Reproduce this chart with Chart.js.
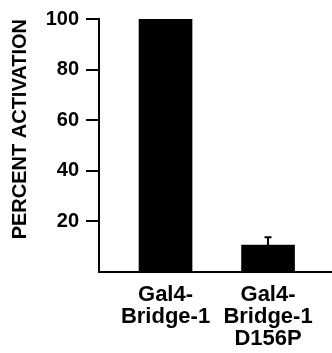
<!DOCTYPE html>
<html lang="en">
<head>
  <meta charset="UTF-8" />
  <title>Percent activation</title>
  <script src="https://cdn.jsdelivr.net/npm/chart.js"></script>
  <style>
    body { margin: 0; background: #fff; }
    .chart-box { width: 332px; height: 353px; }
  </style>
</head>
<body>

  <div class="chart-box">
    <canvas id="activationChart"></canvas>
  </div>

  <script>
    // data
    const categories = [
      ['Gal4-', 'Bridge-1'],
      ['Gal4-', 'Bridge-1', 'D156P']
    ];
    const activation = [100, 10.6];
    const errors = [0, 3.1];
    const yTicks = [20, 40, 60, 80, 100];

    const font = 'Liberation Sans, Arial, Helvetica, sans-serif';

    // simple error bar (upper whisker only, the lower part is hidden by the bar)
    const errorBars = {
      id: 'errorBars',
      afterDatasetsDraw(chart) {
        const ctx = chart.ctx;
        const yScale = chart.scales.y;
        const meta = chart.getDatasetMeta(0);
        ctx.save();
        ctx.strokeStyle = '#000';
        ctx.lineWidth = 2;
        meta.data.forEach((bar, i) => {
          if (!errors[i]) return;
          const top = yScale.getPixelForValue(activation[i] + errors[i]);
          ctx.beginPath();
          ctx.moveTo(bar.x, bar.y);
          ctx.lineTo(bar.x, top);
          ctx.moveTo(bar.x - 3.5, top);
          ctx.lineTo(bar.x + 3.5, top);
          ctx.stroke();
        });
        ctx.restore();
      }
    };

    new Chart(document.getElementById('activationChart'), {
      type: 'bar',
      data: {
        datasets: [{
          label: 'Percent activation',
          data: activation.map((v, i) => ({ x: i + 1, y: v })),
          backgroundColor: '#000',
          barThickness: 53
        }]
      },
      options: {
        responsive: true,
        maintainAspectRatio: false,
        animation: false,
        layout: { padding: { top: 17, right: 0, bottom: 0, left: 0 } },
        plugins: { legend: { display: false }, tooltip: { enabled: false } },
        scales: {
          x: {
            type: 'linear',
            min: 0.351,
            max: 2.624,
            offset: false,
            afterBuildTicks: s => { s.ticks = categories.map((c, i) => ({ value: i + 1 })); },
            afterFit: s => { s.height = 81; },
            grid: { display: false },
            border: { color: '#000', width: 2 },
            ticks: {
              autoSkip: false,
              maxRotation: 0,
              color: '#000',
              padding: 4,
              font: { family: font, size: 22, weight: 'bold', lineHeight: 0.99 },
              callback: v => categories[v - 1]
            }
          },
          y: {
            min: 0,
            max: 100,
            afterBuildTicks: s => { s.ticks = yTicks.map(v => ({ value: v })); },
            afterFit: s => { s.width = 99; },
            grid: { drawOnChartArea: false, tickLength: 13, color: '#000', lineWidth: 2 },
            border: { color: '#000', width: 2 },
            ticks: {
              color: '#000',
              padding: 7,
              font: { family: font, size: 20, weight: 'bold' }
            },
            title: {
              display: true,
              text: 'PERCENT ACTIVATION',
              align: 'end',
              color: '#000',
              padding: { top: 8, bottom: 0 },
              font: { family: font, size: 20, weight: 'bold' }
            }
          }
        }
      },
      plugins: [errorBars]
    });
  </script>

</body>
</html>
